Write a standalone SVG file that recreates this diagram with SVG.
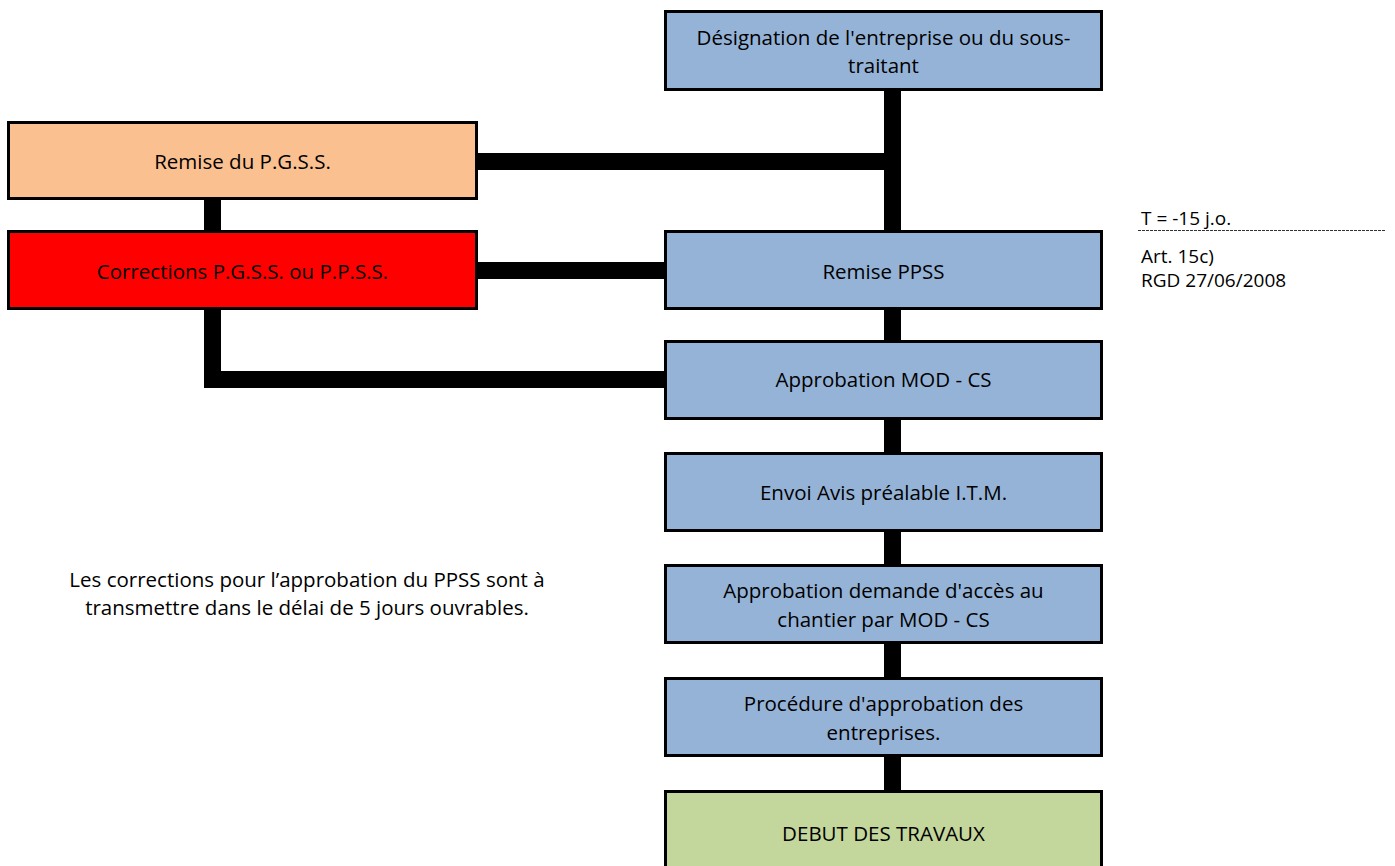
<svg xmlns="http://www.w3.org/2000/svg" width="1395" height="866" viewBox="0 0 1395 866">
<style>
.box{stroke:#000;stroke-width:3}
.blue{fill:#95B3D7}
.orange{fill:#FAC090}
.red{fill:#FF0000}
.green{fill:#C3D69B}
text{font-family:"Open Sans","Noto Sans","DejaVu Sans",sans-serif;font-size:20.5px;fill:#000}
.c{text-anchor:middle}
.ann{font-size:19px}
.conn{fill:#000}
</style>
<rect width="1395" height="866" fill="#fff"/>
<g id="connectors">
<rect class="conn" x="884" y="90" width="17" height="142"/>
<rect class="conn" x="478" y="153" width="406" height="17"/>
<rect class="conn" x="204" y="200" width="17" height="31"/>
<rect class="conn" x="478" y="262" width="187" height="17"/>
<rect class="conn" x="204" y="309" width="17" height="79"/>
<rect class="conn" x="204" y="371" width="461" height="17"/>
<rect class="conn" x="884" y="309" width="17" height="32"/>
<rect class="conn" x="884" y="419" width="17" height="34"/>
<rect class="conn" x="884" y="531" width="17" height="34"/>
<rect class="conn" x="884" y="643" width="17" height="35"/>
<rect class="conn" x="884" y="756" width="17" height="35"/>
</g>
<g id="n-designation">
<rect class="box blue" x="665.5" y="11.5" width="436" height="78"/>
<text class="c" x="883.5" y="45">Désignation de l'entreprise ou du sous-</text>
<text class="c" x="883.5" y="73">traitant</text>
</g>
<g id="n-remise-pgss">
<rect class="box orange" x="8.5" y="122.5" width="468" height="76"/>
<text class="c" x="242.5" y="169">Remise du P.G.S.S.</text>
</g>
<g id="n-corrections">
<rect class="box red" x="8.5" y="231.5" width="468" height="77"/>
<text class="c" x="242.5" y="279">Corrections P.G.S.S. ou P.P.S.S.</text>
</g>
<g id="n-remise-ppss">
<rect class="box blue" x="665.5" y="231.5" width="436" height="77"/>
<text class="c" x="883.5" y="279">Remise PPSS</text>
</g>
<g id="n-approbation-mod">
<rect class="box blue" x="665.5" y="341.5" width="436" height="77"/>
<text class="c" x="883.5" y="387">Approbation MOD - CS</text>
</g>
<g id="n-envoi">
<rect class="box blue" x="665.5" y="453.5" width="436" height="77"/>
<text class="c" x="883.5" y="500">Envoi Avis préalable I.T.M.</text>
</g>
<g id="n-approbation-acces">
<rect class="box blue" x="665.5" y="565.5" width="436" height="77"/>
<text class="c" x="883.5" y="598">Approbation demande d'accès au</text>
<text class="c" x="883.5" y="627">chantier par MOD - CS</text>
</g>
<g id="n-procedure">
<rect class="box blue" x="665.5" y="678.5" width="436" height="77"/>
<text class="c" x="883.5" y="711">Procédure d'approbation des</text>
<text class="c" x="883.5" y="740">entreprises.</text>
</g>
<g id="n-debut">
<rect class="box green" x="665.5" y="791.5" width="436" height="80"/>
<text class="c" x="883.5" y="841">DEBUT DES TRAVAUX</text>
</g>
<g id="annotation">
<text class="ann" x="1141" y="225">T = -15 j.o.</text>
<line x1="1138" y1="230.5" x2="1385" y2="230.5" stroke="#333" stroke-width="1" stroke-dasharray="3,1"/>
<text class="ann" x="1141" y="263">Art. 15c)</text>
<text class="ann" x="1141" y="287">RGD 27/06/2008</text>
</g>
<g id="note">
<text class="c" x="307" y="587">Les corrections pour l’approbation du PPSS sont à</text>
<text class="c" x="307" y="615">transmettre dans le délai de 5 jours ouvrables.</text>
</g>
</svg>
